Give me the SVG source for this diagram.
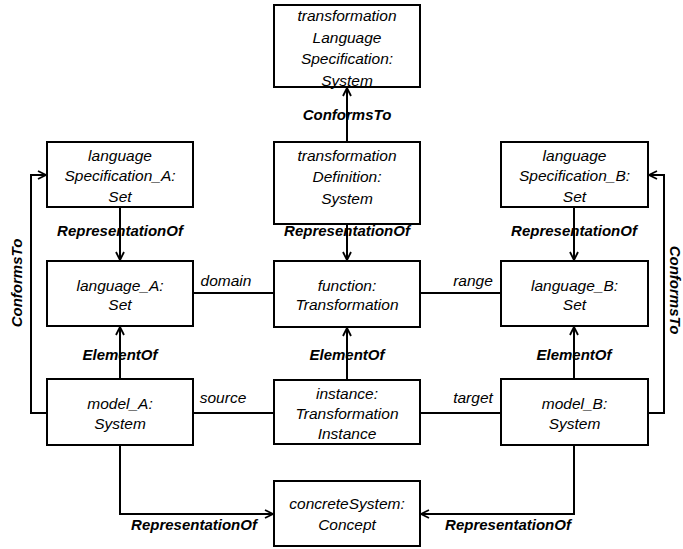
<svg xmlns="http://www.w3.org/2000/svg" width="683" height="549" viewBox="0 0 683 549">
<style>
.box{fill:#fff;stroke:#000;stroke-width:2}
.t{font-family:"Liberation Sans",Arial,sans-serif;font-style:italic;font-size:15.5px;text-anchor:middle;fill:#000}
.lb{font-family:"Liberation Sans",Arial,sans-serif;font-style:italic;font-weight:bold;font-size:15px;text-anchor:middle;fill:#000}
.c{fill:none;stroke:#000;stroke-width:2}
</style>
<defs>
<marker id="arr" viewBox="0 0 10 10" refX="9" refY="5" markerWidth="10" markerHeight="10" markerUnits="userSpaceOnUse" orient="auto">
<path d="M1,1 L9,5 L1,9" fill="none" stroke="#000" stroke-width="1.8"/>
</marker>
</defs>
<rect width="683" height="549" fill="#fff"/>
<g id="connectors">
<path class="c" d="M347,142 V88" marker-end="url(#arr)"/>
<path class="c" d="M347,224 V260" marker-end="url(#arr)"/>
<path class="c" d="M347,380 V328" marker-end="url(#arr)"/>
<path class="c" d="M120,207 V260" marker-end="url(#arr)"/>
<path class="c" d="M120,379 V327" marker-end="url(#arr)"/>
<path class="c" d="M574,207 V260" marker-end="url(#arr)"/>
<path class="c" d="M574,379 V327" marker-end="url(#arr)"/>
<path class="c" d="M47,413 H31 V175 H46" marker-end="url(#arr)"/>
<path class="c" d="M648,413 H664 V175 H649" marker-end="url(#arr)"/>
<path class="c" d="M120,445 V514 H273" marker-end="url(#arr)"/>
<path class="c" d="M574,445 V514 H421" marker-end="url(#arr)"/>
<path class="c" d="M193,293 H274"/>
<path class="c" d="M420,293 H501"/>
<path class="c" d="M193,413 H274"/>
<path class="c" d="M420,413 H501"/>
<text class="lb" x="347" y="119.5">ConformsTo</text>
<text class="lb" x="347" y="236">RepresentationOf</text>
<text class="lb" x="120" y="236">RepresentationOf</text>
<text class="lb" x="574" y="236">RepresentationOf</text>
<text class="lb" x="347" y="360">ElementOf</text>
<text class="lb" x="120" y="360">ElementOf</text>
<text class="lb" x="574" y="360">ElementOf</text>
<text class="lb" x="194" y="530">RepresentationOf</text>
<text class="lb" x="508" y="530">RepresentationOf</text>
<text class="lb" transform="translate(22,283) rotate(-90)">ConformsTo</text>
<text class="lb" transform="translate(670,290) rotate(90)">ConformsTo</text>
<text class="t" x="226" y="286">domain</text>
<text class="t" x="473" y="286">range</text>
<text class="t" x="223" y="402.5">source</text>
<text class="t" x="473" y="402.5">target</text>
</g>
<g id="tls">
<rect class="box" x="274" y="5" width="146" height="82"/>
<text class="t" x="347" y="21">transformation</text>
<text class="t" x="347" y="42.5">Language</text>
<text class="t" x="347" y="64">Specification:</text>
<text class="t" x="347" y="85.5">System</text>
</g>
<g id="tdef">
<rect class="box" x="274" y="142" width="146" height="82"/>
<text class="t" x="347" y="160.5">transformation</text>
<text class="t" x="347" y="182">Definition:</text>
<text class="t" x="347" y="203.5">System</text>
</g>
<g id="lsa">
<rect class="box" x="47" y="142" width="146" height="65"/>
<text class="t" x="120" y="160.5">language</text>
<text class="t" x="120" y="181">Specification_A:</text>
<text class="t" x="120" y="201.5">Set</text>
</g>
<g id="lsb">
<rect class="box" x="501" y="142" width="147" height="65"/>
<text class="t" x="574.5" y="160.5">language</text>
<text class="t" x="574.5" y="181">Specification_B:</text>
<text class="t" x="574.5" y="201.5">Set</text>
</g>
<g id="la">
<rect class="box" x="47" y="261" width="146" height="65"/>
<text class="t" x="120" y="290.5">language_A:</text>
<text class="t" x="120" y="310">Set</text>
</g>
<g id="fn">
<rect class="box" x="274" y="261" width="146" height="66"/>
<text class="t" x="347" y="290.5">function:</text>
<text class="t" x="347" y="310">Transformation</text>
</g>
<g id="lb">
<rect class="box" x="501" y="261" width="147" height="65"/>
<text class="t" x="574.5" y="290.5">language_B:</text>
<text class="t" x="574.5" y="310">Set</text>
</g>
<g id="ma">
<rect class="box" x="47" y="379" width="146" height="66"/>
<text class="t" x="120" y="408.5">model_A:</text>
<text class="t" x="120" y="428.5">System</text>
</g>
<g id="inst">
<rect class="box" x="274" y="380" width="146" height="64"/>
<text class="t" x="347" y="398.5">instance:</text>
<text class="t" x="347" y="418.5">Transformation</text>
<text class="t" x="347" y="438.5">Instance</text>
</g>
<g id="mb">
<rect class="box" x="501" y="379" width="147" height="66"/>
<text class="t" x="574.5" y="408.5">model_B:</text>
<text class="t" x="574.5" y="428.5">System</text>
</g>
<g id="cs">
<rect class="box" x="274" y="481" width="146" height="65"/>
<text class="t" x="347" y="508.5">concreteSystem:</text>
<text class="t" x="347" y="529.5">Concept</text>
</g>
</svg>
